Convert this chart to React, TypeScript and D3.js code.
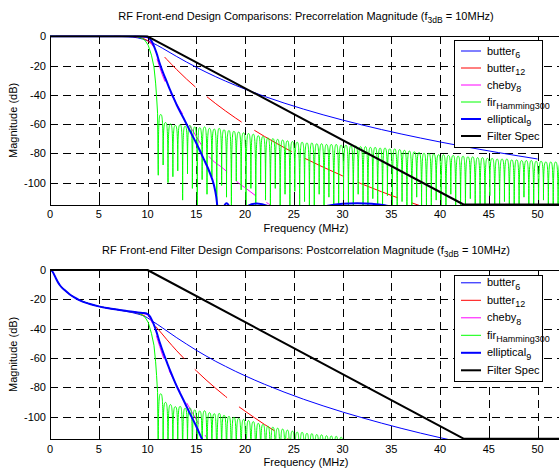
import React from 'react'
import * as d3 from 'd3'

type Pt = [number, number]

const width = 559
const height = 469
const font = 'Liberation Sans, Arial, Helvetica, sans-serif'

// axes
const freqDomain: Pt = [0, 52.5]
const magDomain: Pt = [-115, 0]
const freqTicks = [0, 5, 10, 15, 20, 25, 30, 35, 40, 45, 50]
const magTicks = [0, -20, -40, -60, -80, -100]

// [MHz, dB]
const butter6Pre: Pt[] = [[0, 0], [5, 0], [7, -0.06], [8, -0.29], [9, -1.07], [9.5, -1.88], [10, -3.01], [10.5, -4.47], [11, -6.17], [11.5, -8.03], [12, -9.96], [13, -13.86], [14, -17.6], [15, -21.16], [16, -24.5], [17, -27.66], [18, -30.64], [19, -33.46], [20, -36.12], [22, -41.1], [24, -45.63], [26, -49.8], [28, -53.66], [30, -57.25], [32, -60.62], [34, -63.78], [36, -66.76], [38, -69.57], [40, -72.25], [42, -74.79], [44, -77.21], [46, -79.53], [48, -81.75], [50, -83.88]]
const butter6Post: Pt[] = [[0, 0], [0.2, -0.6], [0.4, -2.8], [0.6, -5.6], [0.8, -8.1], [1, -10.2], [1.25, -12.2], [1.5, -13.7], [2, -16.5], [2.5, -18.7], [3, -20.5], [4, -23], [5, -24.8], [6, -26.1], [7, -27.2], [8, -28.4], [9, -30], [9.5, -31], [10, -32.6], [10.5, -34.9], [11, -37], [11.5, -39.3], [12, -41.6], [13, -46.2], [14, -50.5], [15, -54.7], [16, -58.6], [17, -62.3], [18, -65.7], [19, -69], [20, -72.1], [22, -77.9], [24, -83.2], [26, -88.1], [28, -92.6], [30, -96.8], [32, -100.7], [34, -104.4], [36, -107.9], [38, -111.2], [40, -114.3], [42, -117.2]]

const butter12Pre: Pt[] = [[0, 0], [6, 0], [8, -0.05], [9, -0.5], [9.5, -1.33], [10, -3.01], [10.5, -5.63], [11, -8.88], [11.5, -12.4], [12, -15.95], [12.5, -19.43], [13, -22.8], [14, -29.23], [15, -35.22], [16, -40.82], [17, -46.09], [18, -51.05], [19, -55.75], [20, -60.21], [22, -68.48], [24, -76.04], [26, -83], [28, -89.43], [30, -95.42], [32, -101.03], [34, -106.3], [36, -111.26], [38, -115.96], [40, -120.4]]
const butter12Post: Pt[] = [[0, 0], [0.2, -0.6], [0.4, -2.8], [0.6, -5.6], [0.8, -8.1], [1, -10.2], [1.25, -12.2], [1.5, -13.7], [2, -16.5], [2.5, -18.7], [3, -20.5], [4, -23], [5, -24.8], [6, -26.1], [7, -27.1], [8, -28.2], [9, -29.4], [9.5, -30.6], [10, -32.6], [10.5, -35.9], [11, -39.7], [11.5, -43.6], [12, -47.6], [12.5, -51.4], [13, -55.1], [14, -62.1], [15, -68.7], [16, -74.9], [17, -80.7], [18, -86.2], [19, -91.4], [20, -96.2], [22, -105.3], [24, -113.6], [26, -121.3]]

const cheby8Pre: Pt[] = [[0, 0], [9, 0], [9.5, -0.3], [10, -1], [10.5, -6], [11, -16], [11.5, -26], [12, -34], [12.5, -40.5], [13, -46.5], [13.5, -52], [14, -57.5], [14.5, -63], [15, -68.5], [15.5, -74], [16, -79.5], [16.7, -85], [17.5, -89], [18.3, -93.5], [19.1, -99], [20.2, -104.5], [21.3, -110], [22.4, -114.5], [23.5, -119], [25, -124]]
const cheby8Post: Pt[] = [[0, 0], [0.2, -0.6], [0.4, -2.8], [0.6, -5.6], [0.8, -8.1], [1, -10.2], [1.25, -12.2], [1.5, -13.7], [2, -16.5], [2.5, -18.7], [3, -20.5], [4, -23], [5, -24.8], [6, -26.1], [7, -27.1], [8, -28.1], [9, -28.9], [9.5, -29.6], [10, -30.6], [10.5, -36.3], [11, -46.8], [11.5, -57.2], [12, -65.6], [12.5, -72.4], [13, -78.8], [13.5, -84.6], [14, -90.4], [14.5, -96.2], [15, -102], [15.5, -107.8], [16, -113.6], [16.7, -119.6]]

const ellip9Pre: Pt[] = [[0, 0], [9, 0], [9.8, -0.3], [10.07, -0.8], [10.4, -3], [10.9, -11], [11.3, -19.5], [11.6, -25], [12, -31.5], [12.3, -36.5], [12.7, -42.5], [13, -47], [13.66, -55.5], [14.3, -64], [15.03, -73.5], [15.7, -83], [16.4, -93.5], [16.8, -101.5], [17.05, -110], [17.2, -119], [17.4, -135], [17.65, -121], [18.1, -114.2], [18.55, -120], [18.8, -135], [19.3, -122], [20.2, -116.2], [21.2, -114.3], [22.3, -116], [23.5, -122], [24.3, -140], [25.3, -125], [27, -118.5], [28.5, -115.8], [30, -114.5], [31.5, -114.2], [33, -114.5], [34.5, -115.8], [37, -118.5], [40, -121], [45, -124.5], [50, -127]]
const ellip9Post: Pt[] = [[0, 0], [0.2, -0.6], [0.4, -2.8], [0.6, -5.6], [0.8, -8.1], [1, -10.2], [1.25, -12.2], [1.5, -13.7], [2, -16.5], [2.5, -18.7], [3, -20.5], [4, -23], [5, -24.8], [6, -26.1], [7, -27.1], [8, -28.1], [9, -28.9], [9.5, -29.3], [9.9, -29.6], [10.07, -30.4], [10.2, -31.3], [10.4, -33.5], [10.9, -41.8], [11.3, -50.4], [11.6, -56.2], [12, -63.1], [12.3, -68.3], [12.7, -74.7], [13, -79.3], [13.66, -88.3], [14.3, -97.2], [15.03, -107], [15.7, -116.9], [16, -121]]

const filterSpec: Pt[] = [[0, 0], [10, 0], [42.4, -115], [52.5, -115]]

// FIR (Hamming, 300 taps): passband/transition, then sidelobes between nulls
const firMainPre: Pt[] = [[0, 0], [8.8, 0], [9.22, -0.9], [9.5, -1.6], [9.73, -2.7], [10.07, -6.1], [10.4, -12.9], [10.66, -20.9], [10.83, -32], [10.93, -41.3], [11.03, -52.6]]
const firMainPost: Pt[] = [[0, 0], [0.2, -0.6], [0.4, -2.8], [0.6, -5.6], [0.8, -8.1], [1, -10.2], [1.25, -12.2], [1.5, -13.7], [2, -16.5], [2.5, -18.7], [3, -20.5], [4, -23], [5, -24.8], [6, -26.1], [7, -27.1], [8, -28.1], [8.8, -28.8], [9.22, -29.9], [9.5, -30.9], [9.73, -32.1], [10.07, -35.7], [10.4, -43.2], [10.66, -51.3], [10.83, -62.6], [10.93, -72], [11.03, -83.4]]
const firNullFreq = [
  11.1, 11.6, 12.1, 12.6, 13.1, 13.6, 14.1, 14.6, 15.1, 15.6,
  16.1, 16.6, 17.1, 17.6, 18.1, 18.6, 19.1, 19.6, 20.1, 20.6,
  21.1, 21.6, 22.1, 22.6, 23.1, 23.6, 24.1, 24.6, 25.1, 25.6,
  26.1, 26.6, 27.1, 27.6, 28.1, 28.6, 29.1, 29.6, 30.1, 30.6,
  31.1, 31.6, 32.1, 32.6, 33.1, 33.6, 34.1, 34.6, 35.1, 35.6,
  36.1, 36.6, 37.1, 37.6, 38.1, 38.6, 39.1, 39.6, 40.1, 40.6,
  41.1, 41.6, 42.1, 42.6, 43.1, 43.6, 44.1, 44.6, 45.1, 45.6,
  46.1, 46.6, 47.1, 47.6, 48.1, 48.6, 49.1, 49.6, 50.1, 50.6,
  51.1, 51.6, 52.1, 52.6,
]
const firNullPre = [
  -95, -88, -100, -96, -92, -112, -94, -104, -125, -98,
  -108, -96, -125, -102, -110, -125, -99, -105, -125, -104,
  -125, -100, -112, -125, -104, -125, -108, -125, -106, -125,
  -113, -125, -125, -108, -125, -110, -125, -125, -112, -125,
  -125, -108, -125, -125, -111, -125, -125, -109, -125, -125,
  -113, -125, -125, -110, -125, -125, -125, -112, -125, -125,
  -108, -125, -125, -125, -111, -125, -125, -125, -109, -125,
  -125, -113, -125, -125, -125, -110, -125, -125, -125, -112,
  -125, -125, -125, -125,
]
const firPeakPre = [
  -53.5, -59, -60, -61, -60.5, -61.5, -61, -62, -62.5, -62,
  -63, -63.5, -63, -64, -64.5, -65, -65.5, -66, -66.5, -67,
  -68, -68.5, -69.5, -70, -70.5, -71, -71.5, -72, -72.5, -72.5,
  -73, -73, -73.5, -73.5, -74, -74, -74, -74.5, -74.5, -75,
  -75, -75.5, -75.5, -76, -76, -76.5, -76.5, -77, -77, -77.5,
  -78, -78.5, -79, -79.5, -80, -80, -80.5, -81, -81, -81.5,
  -81.5, -82, -82, -82.5, -82.5, -83, -83, -83.5, -83.5, -84,
  -84, -84, -84.5, -84.5, -85, -85, -85, -85.5, -85.5, -86,
  -86, -86, -86.5,
]
const firNullPost = [
  -126, -119, -132, -128, -124, -145, -127, -137, -158, -132,
  -142, -130, -160, -137, -145, -160, -135, -141, -161, -140,
  -162, -137, -149, -162, -141, -163, -146, -163, -144, -163,
  -151, -164, -164, -147, -164, -149, -164, -164, -152,
]
const firPeakPost = [
  -84.4, -90.3, -91.8, -93.2, -93, -94.3, -94.1, -95.4, -96.2, -96,
  -97.3, -98, -97.8, -99.1, -99.8, -100.5, -101.2, -101.9, -102.7, -103.4,
  -104.6, -105.3, -106.5, -107.2, -107.9, -108.5, -109.2, -109.9, -110.6, -110.7,
  -111.4, -111.6, -112.2, -112.4, -113, -113.2, -113.4, -114,
]

const legendNames = ['butter', 'butter', 'cheby', 'fir', 'elliptical', 'Filter Spec']
const legendSubs = ['6', '12', '8', 'Hamming300', '9', '']

const colors = ['#0000ff', '#ff0000', '#ff00ff', '#00ff00', '#0000ff', '#000000']
const widths = [1, 1, 1, 1, 2, 2]

const panels = [
  {
    id: 'pre',
    title: 'RF Front-end Design Comparisons: Precorrelation Magnitude (f',
    top: 36.3, bottom: 204.5, titleY: 20, tickY: 217.5, labelY: 231.5,
    legendTop: 39.5, legendBottom: 146, legendFirst: 51, legendStep: 17,
    redOffset: 52, magOffset: 27,
    butter6: butter6Pre, butter12: butter12Pre, cheby8: cheby8Pre, ellip9: ellip9Pre,
    firMain: firMainPre, firNull: firNullPre, firPeak: firPeakPre,
  },
  {
    id: 'post',
    title: 'RF Front-end Filter Design Comparisons: Postcorrelation Magnitude (f',
    top: 270, bottom: 438.7, titleY: 253.5, tickY: 453, labelY: 466,
    legendTop: 274.5, legendBottom: 380, legendFirst: 282.8, legendStep: 17.5,
    redOffset: 48, magOffset: 12,
    butter6: butter6Post, butter12: butter12Post, cheby8: cheby8Post, ellip9: ellip9Post,
    firMain: firMainPost, firNull: firNullPost, firPeak: firPeakPost,
  },
]

const left = 50
const right = 562

function firPath(main: Pt[], nulls: number[], peaks: number[], x: d3.ScaleLinear<number, number>, y: d3.ScaleLinear<number, number>) {
  const p = d3.path()
  main.forEach(([f, v], i) => (i ? p.lineTo(x(f), y(v)) : p.moveTo(x(f), y(v))))
  for (let i = 0; i < nulls.length; i++) {
    const x0 = x(firNullFreq[i])
    const y0 = y(nulls[i])
    p.lineTo(x0, y0)
    if (i >= peaks.length || i + 1 >= nulls.length) break
    const x2 = x(firNullFreq[i + 1])
    const y2 = y(nulls[i + 1])
    const xm = (x0 + x2) / 2
    const ym = y(peaks[i])
    // sharp null, rounded lobe top
    p.bezierCurveTo(x0, ym, (x0 + xm) / 2, ym, xm, ym)
    p.bezierCurveTo((xm + x2) / 2, ym, x2, ym, x2, y2)
  }
  return p.toString()
}

function Panel({ cfg }: { cfg: (typeof panels)[number] }) {
  const x = d3.scaleLinear().domain(freqDomain).range([left, right])
  const y = d3.scaleLinear().domain(magDomain).range([cfg.bottom, cfg.top])
  const line = d3.line<Pt>().x((d) => x(d[0])).y((d) => y(d[1])).curve(d3.curveMonotoneX)
  const straight = d3.line<Pt>().x((d) => x(d[0])).y((d) => y(d[1]))
  const clipId = 'clip-' + cfg.id
  const midX = (left + right) / 2
  const midY = (cfg.top + cfg.bottom) / 2

  return (
    <g>
      <text x={midX} y={cfg.titleY} textAnchor="middle" fontSize={11}>
        {cfg.title}
        <tspan fontSize={8.5} dy={3}>3dB</tspan>
        <tspan dy={-3}> = 10MHz)</tspan>
      </text>

      <clipPath id={clipId}>
        <rect x={left} y={cfg.top - 1} width={right - left} height={cfg.bottom - cfg.top + 2} />
      </clipPath>

      {/* grid */}
      <g stroke="#000" strokeWidth={1} strokeDasharray="8 5" shapeRendering="crispEdges">
        {freqTicks.slice(1).map((t) => (
          <line key={'gx' + t} x1={Math.round(x(t)) + 0.5} x2={Math.round(x(t)) + 0.5} y1={cfg.top} y2={cfg.bottom} />
        ))}
        {magTicks.slice(1).map((t) => (
          <line key={'gy' + t} x1={left} x2={right} y1={Math.round(y(t)) + 0.5} y2={Math.round(y(t)) + 0.5} />
        ))}
      </g>

      <g clipPath={`url(#${clipId})`} fill="none" strokeLinejoin="round">
        <path d={line(cfg.butter6) ?? ''} stroke={colors[0]} strokeWidth={widths[0]} />
        <path d={line(cfg.butter12) ?? ''} stroke={colors[1]} strokeWidth={widths[1]} strokeDasharray="43 15" strokeDashoffset={cfg.redOffset} />
        <path d={line(cfg.cheby8) ?? ''} stroke={colors[2]} strokeWidth={widths[2]} strokeDasharray="24 13" strokeDashoffset={cfg.magOffset} />
        <path d={firPath(cfg.firMain, cfg.firNull, cfg.firPeak, x, y)} stroke={colors[3]} strokeWidth={widths[3]} />
        <path d={line(cfg.ellip9) ?? ''} stroke={colors[4]} strokeWidth={widths[4]} />
        <path d={straight(filterSpec) ?? ''} stroke={colors[5]} strokeWidth={widths[5]} />
      </g>

      {/* axes box and ticks */}
      <g stroke="#000" strokeWidth={1} shapeRendering="crispEdges">
        <line x1={left} x2={right} y1={Math.round(cfg.top) + 0.5} y2={Math.round(cfg.top) + 0.5} />
        <line x1={left} x2={right} y1={Math.round(cfg.bottom) + 0.5} y2={Math.round(cfg.bottom) + 0.5} />
        <line x1={left + 0.5} x2={left + 0.5} y1={cfg.top} y2={cfg.bottom} />
        {freqTicks.map((t) => (
          <g key={'tx' + t}>
            <line x1={Math.round(x(t)) + 0.5} x2={Math.round(x(t)) + 0.5} y1={cfg.top} y2={cfg.top + 5} />
            <line x1={Math.round(x(t)) + 0.5} x2={Math.round(x(t)) + 0.5} y1={cfg.bottom} y2={cfg.bottom - 5} />
          </g>
        ))}
        {magTicks.map((t) => (
          <line key={'ty' + t} x1={left} x2={left + 5} y1={Math.round(y(t)) + 0.5} y2={Math.round(y(t)) + 0.5} />
        ))}
      </g>

      <g fontSize={11}>
        {freqTicks.map((t) => (
          <text key={'lx' + t} x={x(t)} y={cfg.tickY} textAnchor="middle">{t}</text>
        ))}
        {magTicks.map((t) => (
          <text key={'ly' + t} x={46} y={y(t) + 4} textAnchor="end">{t}</text>
        ))}
        <text x={midX} y={cfg.labelY} textAnchor="middle">Frequency (MHz)</text>
        <text transform={`translate(17,${midY}) rotate(-90)`} textAnchor="middle">Magnitude (dB)</text>
      </g>

      {/* legend */}
      <g>
        <rect x={454.5} y={Math.round(cfg.legendTop) + 0.5} width={88} height={Math.round(cfg.legendBottom - cfg.legendTop)} fill="#fff" stroke="#000" strokeWidth={1} shapeRendering="crispEdges" />
        {legendNames.map((name, i) => {
          const ly = cfg.legendFirst + i * cfg.legendStep
          return (
            <g key={name + i}>
              <line x1={461} x2={481} y1={ly} y2={ly} stroke={colors[i]} strokeWidth={widths[i]} />
              <text x={487} y={ly + 3.5} fontSize={11}>
                {name}
                {legendSubs[i] && <tspan fontSize={9} dy={3.5}>{legendSubs[i]}</tspan>}
              </text>
            </g>
          )
        })}
      </g>
    </g>
  )
}

export default function App() {
  return (
    <svg
      width={width}
      height={height}
      viewBox={`0 0 ${width} ${height}`}
      style={{ position: 'absolute', left: 0, top: 0, background: '#fff' }}
      fontFamily={font}
    >
      {panels.map((p) => (
        <Panel key={p.id} cfg={p} />
      ))}
    </svg>
  )
}
